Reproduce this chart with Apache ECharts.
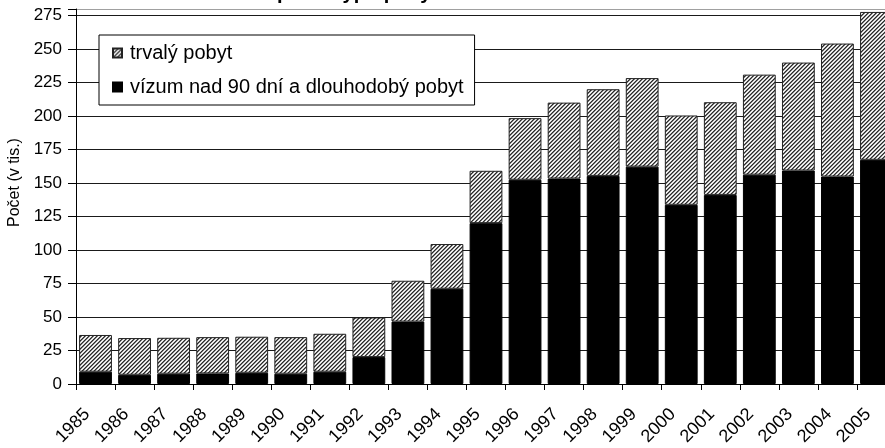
<!DOCTYPE html>
<html>
<head>
<meta charset="utf-8">
<script src="https://cdn.jsdelivr.net/npm/echarts@6/dist/echarts.min.js"></script>
<style>
  html, body { margin: 0; padding: 0; background: #fff; }
  #chart { width: 885px; height: 448px; }
</style>
</head>
<body>
<div id="chart"></div>
<script>
const years = ['1985', '1986', '1987', '1988', '1989', '1990', '1991', '1992', '1993', '1994', '1995',
  '1996', '1997', '1998', '1999', '2000', '2001', '2002', '2003', '2004', '2005'];
// vízum nad 90 dní a dlouhodobý pobyt (tis.)
const vizum = [9.2, 6.9, 7.7, 7.9, 8.4, 7.7, 9.2, 20.1, 46.6, 71.1, 120.1,
  152.5, 153.4, 155.4, 162.3, 133.8, 141.2, 156.3, 159.4, 154.9, 167.4];
// trvalý pobyt (tis.)
const trvaly = [27.4, 27.4, 26.8, 27.1, 26.9, 27.3, 28.3, 29.6, 30.5, 33.4, 39.1,
  46.0, 56.7, 64.7, 66.1, 66.7, 69.2, 74.7, 80.6, 99.3, 110.4];
const yTicks = [0, 25, 50, 75, 100, 125, 150, 175, 200, 225, 250, 275];

const nameTrvaly = 'trvalý pobyt';
const nameVizum = 'vízum nad 90 dní a dlouhodobý pobyt';
const font = '"Liberation Sans", Arial, sans-serif';

// diagonal hatch like the excel fill ( / direction )
function hatch() {
  const c = document.createElement('canvas');
  c.width = 4; c.height = 4;
  const ctx = c.getContext('2d');
  const shades = ['#2a2a2a', '#7a7a7a', '#ffffff', '#d0d0d0'];
  for (let x = 0; x < 4; x++) {
    for (let y = 0; y < 4; y++) {
      ctx.fillStyle = shades[(x + y) % 4];
      ctx.fillRect(x, y, 1, 1);
    }
  }
  return c;
}

const myChart = echarts.init(document.getElementById('chart'));
const splitColors = yTicks.map(() => '#1a1a1a').concat(['#a0a0a0']);

const option = {
  animation: false,
  graphic: [{
    type: 'text',
    left: 207,
    top: -17,
    style: { text: 'Cizinci podle typu pobytu', font: 'bold 20px ' + font, fill: '#000' }
  }],
  grid: { left: 76, top: 9, width: 820, bottom: 64, containLabel: false, outerBoundsMode: 'none' },
  legend: {
    orient: 'vertical',
    left: 99,
    top: 35,
    padding: [8, 11, 8, 13],
    itemGap: 14,
    itemWidth: 9,
    itemHeight: 9,
    icon: 'rect',
    borderColor: '#000',
    borderWidth: 1,
    backgroundColor: '#fff',
    data: [nameTrvaly, nameVizum],
    textStyle: { fontFamily: font, fontSize: 20, color: '#000', padding: [0, 0, 0, 3] }
  },
  xAxis: {
    type: 'category',
    data: years,
    axisLine: { lineStyle: { color: '#000', width: 1 } },
    axisTick: { show: true, length: 6, lineStyle: { color: '#000' } },
    axisLabel: {
      rotate: 45, margin: 19, padding: [0, 12, 0, 0],
      fontFamily: font, fontSize: 18, color: '#000', interval: 0
    }
  },
  yAxis: {
    type: 'value',
    min: 0,
    max: 280,
    interval: 25,
    name: 'Počet (v tis.)',
    nameLocation: 'middle',
    nameGap: 53,
    nameTextStyle: { fontFamily: font, fontSize: 16, color: '#000', padding: [0, 0, 0, 28] },
    axisLine: { show: true, lineStyle: { color: '#000' } },
    axisTick: { show: true, length: 8, lineStyle: { color: '#000' } },
    axisLabel: {
      margin: 14, fontFamily: font, fontSize: 17, color: '#000',
      formatter: v => (yTicks.indexOf(v) >= 0 ? String(v) : '')
    },
    splitLine: { show: true, lineStyle: { color: splitColors, width: 1 } }
  },
  series: [
    {
      name: nameVizum,
      type: 'bar',
      stack: 'pobyt',
      barCategoryGap: '16%',
      data: vizum,
      itemStyle: { color: '#000', borderColor: '#000', borderWidth: 1 }
    },
    {
      name: nameTrvaly,
      type: 'bar',
      stack: 'pobyt',
      barCategoryGap: '16%',
      data: trvaly,
      itemStyle: { color: { image: hatch(), repeat: 'repeat' }, borderColor: '#222', borderWidth: 1 }
    }
  ]
};

myChart.setOption(option);
window.addEventListener('resize', () => {
  myChart.resize();
});
</script>
</body>
</html>
